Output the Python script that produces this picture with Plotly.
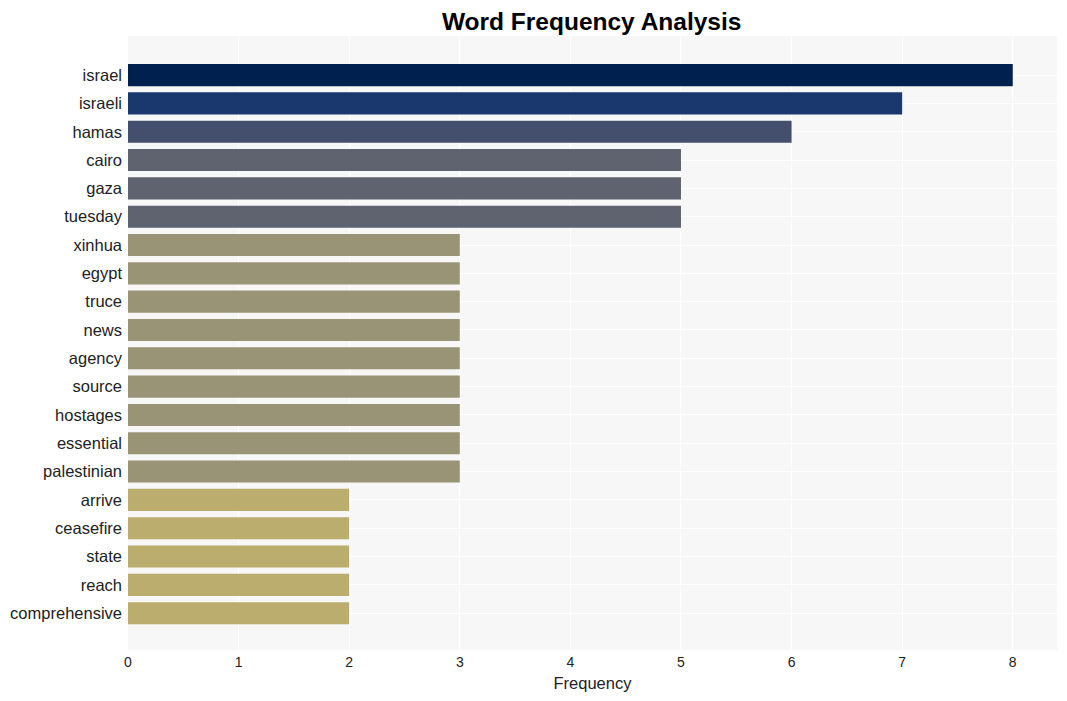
import plotly.graph_objects as go

words = ["israel", "israeli", "hamas", "cairo", "gaza", "tuesday", "xinhua", "egypt",
         "truce", "news", "agency", "source", "hostages", "essential", "palestinian",
         "arrive", "ceasefire", "state", "reach", "comprehensive"]
freqs = [8, 7, 6, 5, 5, 5, 3, 3, 3, 3, 3, 3, 3, 3, 3, 2, 2, 2, 2, 2]
colors = ["#00204F", "#1A376E", "#444F6E", "#5F6370", "#5F6370", "#5F6370"] + \
         ["#9A9477"] * 9 + ["#BBAD6E"] * 5

fig = go.Figure(go.Bar(
    x=freqs, y=words, orientation="h",
    marker=dict(color=colors, line=dict(width=0)),
    width=0.78,
))

n = len(words)
fig.update_layout(
    width=1067, height=701,
    margin=dict(l=120, r=18, t=28, b=59),
    paper_bgcolor="white",
    plot_bgcolor="#F7F7F7",
    font=dict(family="Liberation Sans, Arial, sans-serif", color="#222"),
    title=dict(text="<b>Word Frequency Analysis</b>", x=0.547, xanchor="center",
               y=0.981, yanchor="middle", font=dict(size=24.5, color="black")),
    xaxis=dict(range=[0, 8.4], dtick=1, gridcolor="white", gridwidth=1,
               zeroline=False, tickfont=dict(size=14), ticklabelstandoff=2,
               title=dict(text="Frequency", font=dict(size=16.5), standoff=8)),
    yaxis=dict(categoryorder="array", categoryarray=words,
               range=[n - 1 + 1.3, -1.38], gridcolor="white", automargin=False,
               tickfont=dict(size=16.5), ticklabelstandoff=5),
    showlegend=False,
)

fig.write_html("out.html")
